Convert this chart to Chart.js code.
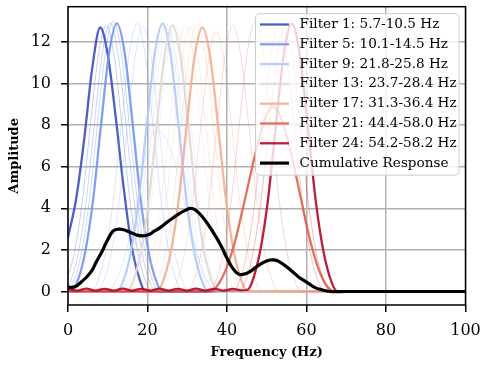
<!DOCTYPE html>
<html>
<head>
<meta charset="utf-8">
<script src="https://cdn.jsdelivr.net/npm/chart.js@4"></script>
<style>
  body { margin: 0; background: #fff; }
  #chart { display: block; }
</style>
</head>
<body>
<canvas id="chart" width="484" height="366"></canvas>
<script>
// filter responses (Hz, amplitude)
const hz1 = [0, 2, 4, 6, 8.1, 10, 12, 14, 16, 18, 19.5, 100];
const amp1 = [2.6, 4.4, 7.2, 10.6, 12.7, 11.4, 8.4, 5.0, 2.2, 0.6, 0, 0];
const hz2 = [0, 1.6, 3.6, 5.6, 7.6, 9.6, 11.6, 13.6, 15.6, 17.6, 19.6, 21.1, 100];
const amp2 = [0.7, 1.86, 4.35, 7.94, 11.33, 12.8, 11.33, 7.94, 4.35, 1.86, 0.45, 0, 0];
const hz3 = [0, 0.6, 2.6, 4.6, 6.6, 8.6, 10.6, 12.6, 14.6, 16.6, 18.6, 20.6, 22.1, 100];
const amp3 = [0.2, 0.45, 1.87, 4.39, 8.0, 11.42, 12.9, 11.42, 8.0, 4.39, 1.87, 0.45, 0, 0];
const hz4 = [0, 1.4, 3.4, 5.4, 7.4, 9.4, 11.4, 13.4, 15.4, 17.4, 19.4, 21.4, 22.9, 100];
const amp4 = [0, 0.46, 1.89, 4.42, 8.06, 11.5, 13.0, 11.5, 8.06, 4.42, 1.89, 0.46, 0, 0];
const hz5 = [0, 0.8, 2.3, 4.3, 6.3, 8.3, 10.3, 12.3, 14.3, 16.3, 18.3, 20.3, 22.3, 23.8, 100];
const amp5 = [0, 0, 0.45, 1.87, 4.39, 8.0, 11.42, 12.9, 11.42, 8.0, 4.39, 1.87, 0.45, 0, 0];
const hz6 = [0, 5.9, 7.4, 9.4, 11.4, 13.4, 15.4, 17.4, 19.4, 21.4, 23.4, 25.4, 27.4, 28.9, 100];
const amp6 = [0, 0, 0.45, 1.87, 4.39, 8.0, 11.42, 12.9, 11.42, 8.0, 4.39, 1.87, 0.45, 0, 0];
const hz7 = [0, 7.4, 8.9, 10.9, 12.9, 14.9, 16.9, 18.9, 20.9, 22.9, 24.9, 26.9, 28.9, 30.4, 100];
const amp7 = [0, 0, 0.45, 1.85, 4.33, 7.9, 11.28, 12.75, 11.28, 7.9, 4.33, 1.85, 0.45, 0, 0];
const hz8 = [0, 10.2, 12.2, 14.2, 16.2, 18.2, 20.2, 22.2, 24.2, 26.2, 28.2, 30.2, 32.2, 34.2, 36.2, 38.2, 100];
const amp8 = [0, 0, 0.6, 1.6, 3.2, 5.2, 7.1, 7.7, 7.5, 6.6, 5.2, 3.5, 2.0, 0.8, 0.2, 0, 0];
const hz9 = [0, 12.3, 13.8, 15.8, 17.8, 19.8, 21.8, 23.8, 25.8, 27.8, 29.8, 31.8, 33.8, 35.3, 100];
const amp9 = [0, 0, 0.45, 1.87, 4.39, 8.0, 11.42, 12.9, 11.42, 8.0, 4.39, 1.87, 0.45, 0, 0];
const hz10 = [0, 13.1, 14.6, 16.6, 18.6, 20.6, 22.6, 24.6, 26.6, 28.6, 30.6, 32.6, 34.6, 36.1, 100];
const amp10 = [0, 0, 0.45, 1.87, 4.39, 8.0, 11.42, 12.9, 11.42, 8.0, 4.39, 1.87, 0.45, 0, 0];
const hz11 = [0, 13.7, 15.2, 17.2, 19.2, 21.2, 23.2, 25.2, 27.2, 29.2, 31.2, 33.2, 35.2, 36.7, 100];
const amp11 = [0, 0, 0.44, 1.84, 4.32, 7.87, 11.24, 12.7, 11.24, 7.87, 4.32, 1.84, 0.44, 0, 0];
const hz12 = [0, 15.5, 17, 19, 21, 23, 25, 27, 29, 31, 33, 35, 37, 38.5, 100];
const amp12 = [0, 0, 0.45, 1.86, 4.35, 7.94, 11.33, 12.8, 11.33, 7.94, 4.35, 1.86, 0.45, 0, 0];
const hz13 = [0, 14.8, 16.3, 18.3, 20.3, 22.3, 24.3, 26.3, 28.3, 30.3, 32.3, 34.3, 36.3, 37.8, 100];
const amp13 = [0, 0, 0.45, 1.86, 4.35, 7.94, 11.33, 12.8, 11.33, 7.94, 4.35, 1.86, 0.45, 0, 0];
const hz14 = [0, 18, 19.5, 21.5, 23.5, 25.5, 27.5, 29.5, 31.5, 33.5, 35.5, 37.5, 39.5, 41, 100];
const amp14 = [0, 0, 0.45, 1.86, 4.35, 7.94, 11.33, 12.8, 11.33, 7.94, 4.35, 1.86, 0.45, 0, 0];
const hz15 = [0, 19.2, 20.7, 22.7, 24.7, 26.7, 28.7, 30.7, 32.7, 34.7, 36.7, 38.7, 40.7, 42.2, 100];
const amp15 = [0, 0, 0.44, 1.84, 4.32, 7.87, 11.24, 12.7, 11.24, 7.87, 4.32, 1.84, 0.44, 0, 0];
const hz16 = [0, 21, 22.5, 24.5, 26.5, 28.5, 30.5, 32.5, 34.5, 36.5, 38.5, 40.5, 42.5, 44, 100];
const amp16 = [0, 0, 0.45, 1.87, 4.39, 8.0, 11.42, 12.9, 11.42, 8.0, 4.39, 1.87, 0.45, 0, 0];
const hz17 = [0, 22.3, 23.8, 25.8, 27.8, 29.8, 31.8, 33.8, 35.8, 37.8, 39.8, 41.8, 43.8, 45.3, 100];
const amp17 = [0, 0, 0.44, 1.84, 4.32, 7.87, 11.24, 12.7, 11.24, 7.87, 4.32, 1.84, 0.44, 0, 0];
const hz18 = [0, 25.8, 27.3, 29.3, 31.3, 33.3, 35.3, 37.3, 39.3, 41.3, 43.3, 45.3, 47.3, 48.8, 100];
const amp18 = [0, 0, 0.44, 1.81, 4.25, 7.75, 11.06, 12.5, 11.06, 7.75, 4.25, 1.81, 0.44, 0, 0];
const hz19 = [0, 30, 31.5, 33.5, 35.5, 37.5, 39.5, 41.5, 43.5, 45.5, 47.5, 49.5, 51.5, 53, 100];
const amp19 = [0, 0, 0.45, 1.86, 4.35, 7.94, 11.33, 12.8, 11.33, 7.94, 4.35, 1.86, 0.45, 0, 0];
const hz20 = [0, 35.6, 37.1, 39.1, 41.1, 43.1, 45.1, 47.1, 49.1, 51.1, 53.1, 55.1, 57.1, 58.6, 100];
const amp20 = [0, 0, 0.46, 1.89, 4.42, 8.06, 11.5, 13.0, 11.5, 8.06, 4.42, 1.89, 0.46, 0, 0];
const hz21 = [0, 36, 38, 40, 42, 44, 46, 48, 50, 51.4, 53, 55, 57, 59, 61, 63, 65, 67, 100];
const amp21 = [0, 0, 0.4, 1.2, 2.4, 4.0, 5.7, 7.3, 8.5, 8.9, 8.6, 7.5, 5.9, 4.1, 2.4, 1.1, 0.3, 0, 0];
const hz22 = [0, 41.5, 43, 45, 47, 49, 51, 53, 55, 57, 59, 61, 63, 64.5, 100];
const amp22 = [0, 0, 0.44, 1.84, 4.32, 7.87, 11.24, 12.7, 11.24, 7.87, 4.32, 1.84, 0.44, 0, 0];
const hz23 = [0, 43, 44.5, 46.5, 48.5, 50.5, 52.5, 54.5, 56.5, 58.5, 60.5, 62.5, 64.5, 66, 100];
const amp23 = [0, 0, 0.44, 1.83, 4.28, 7.81, 11.15, 12.6, 11.15, 7.81, 4.28, 1.83, 0.44, 0, 0];
const hz24 = [0, 2.3, 4.6, 6.9, 9.2, 11.5, 13.8, 16.1, 18.4, 20.7, 23, 25.3, 27.6, 29.9, 32.2, 34.5, 36.8, 39.1, 41.4, 43.7,
  45.3, 46.3, 48.3, 50.3, 52.3, 54.3, 56.3, 58.3, 60.3, 62.3, 64.3, 66.3, 67.8, 100];
const amp24 = [0.12, 0.04, 0.14, 0.04, 0.13, 0.04, 0.14, 0.04, 0.13, 0.04, 0.14, 0.04, 0.13, 0.04, 0.14, 0.04, 0.13, 0.04, 0.12, 0.05,
  0.1, 0.45, 1.9, 4.4, 8.0, 11.4, 12.9, 11.4, 8.0, 4.4, 1.9, 0.45, 0, 0];

// cumulative response (black)
const cumHz = [0, 1, 2, 3, 4.5, 6, 7, 8.5, 9.6, 11.3, 12.8, 14, 15, 16.5, 17.6, 19.2, 20.5, 21.7, 23, 24.7,
  26.5, 28, 29.5, 30.7, 32, 34, 35.5, 37, 38.5, 40, 41.5, 42.8, 44, 45.8, 47.5, 49.1, 50.5, 51.5, 53, 55.9,
  58, 60.2, 62, 63.5, 66, 70, 100];
const cumAmp = [0.2, 0.2, 0.25, 0.4, 0.66, 1.0, 1.38, 1.9, 2.34, 2.9, 3.0, 2.97, 2.9, 2.78, 2.7, 2.68, 2.75, 2.9, 3.05, 3.3,
  3.55, 3.75, 3.9, 4.0, 3.93, 3.55, 3.15, 2.7, 2.2, 1.6, 1.1, 0.85, 0.82, 0.96, 1.2, 1.39, 1.5, 1.52, 1.45, 1.05,
  0.7, 0.43, 0.2, 0.1, 0.0, 0, 0];

// filters shown in the legend and their bands
const legendFilters = [1, 5, 9, 13, 17, 21, 24];
const legendBands = ["5.7-10.5", "10.1-14.5", "21.8-25.8", "23.7-28.4", "31.3-36.4", "44.4-58.0", "54.2-58.2"];

const xTicks = [0, 20, 40, 60, 80, 100];

// coolwarm, one per filter
const coolwarm = [
  [59, 76, 192], [73, 95, 207], [86, 114, 221], [100, 132, 235], [115, 148, 242], [130, 164, 249],
  [145, 179, 254], [160, 190, 252], [175, 201, 250], [189, 210, 245], [201, 214, 236], [215, 218, 227],
  [225, 217, 213], [234, 208, 196], [242, 199, 179], [245, 187, 162], [244, 173, 146], [244, 159, 127],
  [238, 139, 111], [231, 119, 97], [223, 99, 79], [209, 68, 65], [194, 36, 52], [180, 4, 38],
];

const hzLists = [hz1, hz2, hz3, hz4, hz5, hz6, hz7, hz8, hz9, hz10, hz11, hz12,
  hz13, hz14, hz15, hz16, hz17, hz18, hz19, hz20, hz21, hz22, hz23, hz24];
const ampLists = [amp1, amp2, amp3, amp4, amp5, amp6, amp7, amp8, amp9, amp10, amp11, amp12,
  amp13, amp14, amp15, amp16, amp17, amp18, amp19, amp20, amp21, amp22, amp23, amp24];

function toPoints(xs, ys) {
  return xs.map((x, i) => ({ x: x, y: ys[i] }));
}

const datasets = hzLists.map((xs, i) => {
  const n = i + 1;
  const k = legendFilters.indexOf(n);
  const c = coolwarm[i];
  const shown = k >= 0;
  return {
    label: shown ? "Filter " + n + ": " + legendBands[k] + " Hz" : "",
    inLegend: shown,
    data: toPoints(xs, ampLists[i]),
    borderColor: "rgba(" + c.join(",") + "," + (shown ? 0.9 : 0.3) + ")",
    borderWidth: shown ? 2.3 : 1,
    cubicInterpolationMode: "monotone",
    order: 100 - n,
  };
});

datasets.push({
  label: "Cumulative Response",
  inLegend: true,
  data: toPoints(cumHz, cumAmp),
  borderColor: "#000",
  borderWidth: 3.2,
  tension: 0.4,
  order: 0,
});

const serif = "'DejaVu Serif', serif";

const frameAndLegend = {
  id: "frameAndLegend",
  afterDraw(chart) {
    const ctx = chart.ctx;
    const a = chart.chartArea;
    ctx.save();
    ctx.strokeStyle = "#000";
    ctx.lineWidth = 1.5;
    ctx.strokeRect(a.left, a.top, a.right - a.left, a.bottom - a.top);

    const items = chart.data.datasets.filter((d) => d.inLegend);
    const bx = a.right - 210, by = a.top + 7, bw = 203.5, bh = 161.5;
    ctx.beginPath();
    ctx.roundRect(bx, by, bw, bh, 4);
    ctx.fillStyle = "rgba(255,255,255,0.8)";
    ctx.fill();
    ctx.strokeStyle = "#cccccc";
    ctx.lineWidth = 1;
    ctx.stroke();

    ctx.font = "13.6px " + serif;
    ctx.textBaseline = "middle";
    ctx.textAlign = "left";
    items.forEach((d, i) => {
      const y = by + 10.8 + i * 19.8;
      ctx.strokeStyle = d.borderColor;
      ctx.lineWidth = d.borderWidth;
      ctx.beginPath();
      ctx.moveTo(bx + 4.5, y);
      ctx.lineTo(bx + 33.5, y);
      ctx.stroke();
      ctx.fillStyle = "#000";
      ctx.fillText(d.label, bx + 44, y);
    });
    ctx.restore();
  },
};

new Chart(document.getElementById("chart"), {
  type: "line",
  data: { datasets: datasets },
  options: {
    responsive: false,
    animation: false,
    devicePixelRatio: 1,
    layout: { padding: { top: 6.7, right: 18.5, left: 0, bottom: 0 } },
    elements: {
      point: { radius: 0 },
      line: { borderJoinStyle: "round" },
    },
    plugins: { legend: { display: false }, tooltip: { enabled: false } },
    scales: {
      x: {
        type: "linear",
        min: 0,
        max: 100,
        afterBuildTicks: (s) => { s.ticks = xTicks.map((v) => ({ value: v })); },
        ticks: { color: "#000", font: { family: serif, size: 16 }, padding: 9, maxRotation: 0 },
        grid: { color: "#b0b0b0", lineWidth: 1.5, tickLength: 7, tickColor: "#000", tickWidth: 1.5 },
        border: { display: false },
        title: {
          display: true,
          text: "Frequency (Hz)",
          color: "#000",
          font: { family: serif, size: 13, weight: "bold" },
          padding: { top: 0, bottom: 5.5 },
        },
        afterFit: (s) => { s.height = 61; s.paddingLeft = 0; s.paddingRight = 0; },
      },
      y: {
        min: -0.65,
        max: 13.7,
        ticks: { stepSize: 2, includeBounds: false, color: "#000", font: { family: serif, size: 16 }, padding: 10 },
        grid: { color: "#b0b0b0", lineWidth: 1.5, tickLength: 7, tickColor: "#000", tickWidth: 1.5 },
        border: { display: false },
        title: {
          display: true,
          text: "Amplitude",
          color: "#000",
          font: { family: serif, size: 13, weight: "bold" },
          padding: { top: 7, bottom: 0 },
        },
        afterFit: (s) => { s.width = 68; s.paddingTop = 0; s.paddingBottom = 0; },
      },
    },
  },
  plugins: [frameAndLegend],
});
</script>
</body>
</html>
